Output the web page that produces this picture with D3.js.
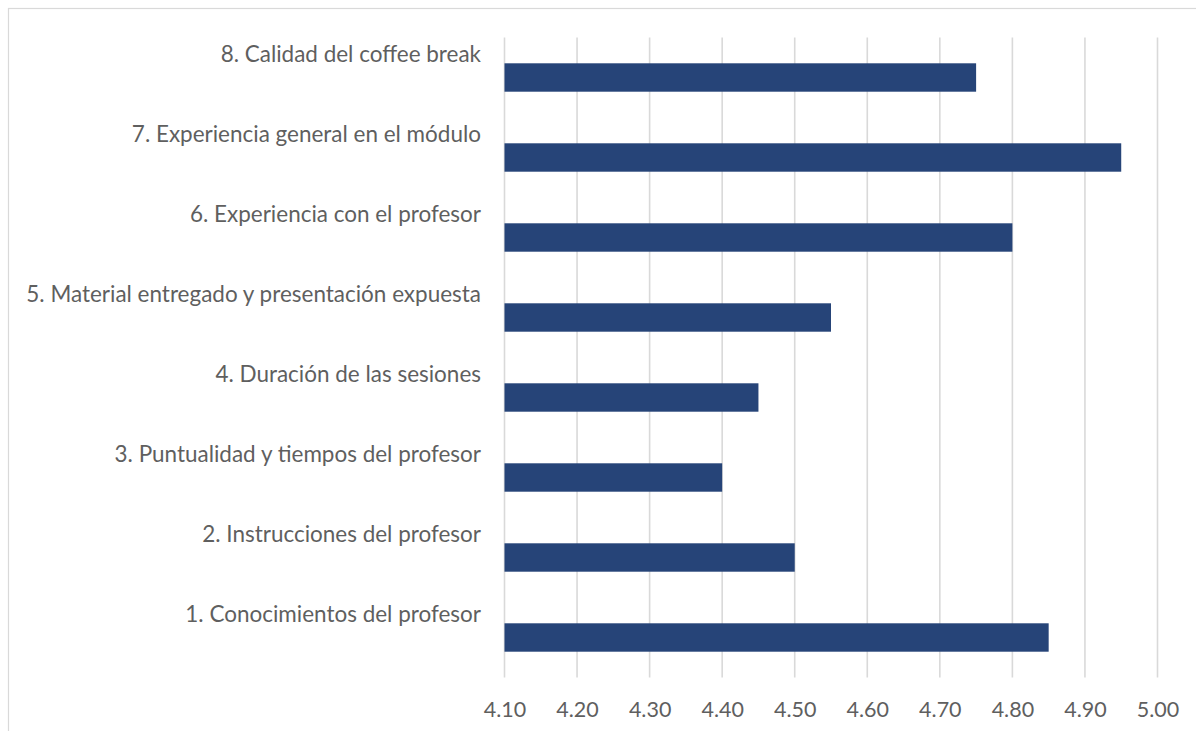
<!DOCTYPE html>
<html>
<head>
<meta charset="utf-8">
<script src="https://cdn.jsdelivr.net/npm/d3@7"></script>
<style>
  html, body { margin: 0; padding: 0; background: #ffffff; }
  svg { display: block; }
</style>
</head>
<body>
<svg id="chart" width="1196" height="731"></svg>
<script>
// ---- data ----
const categories = [
  "1. Conocimientos del profesor",
  "2. Instrucciones del profesor",
  "3. Puntualidad y tiempos del profesor",
  "4. Duración de las sesiones",
  "5. Material entregado y presentación expuesta",
  "6. Experiencia con el profesor",
  "7. Experiencia general en el módulo",
  "8. Calidad del coffee break"
];
const values = [4.85, 4.50, 4.40, 4.45, 4.55, 4.80, 4.95, 4.75];
const tickValues = [4.10, 4.20, 4.30, 4.40, 4.50, 4.60, 4.70, 4.80, 4.90, 5.00];

// ---- layout ----
const W = 1196, H = 731;
const plot = { left: 504.5, right: 1157.5, top: 37.5, bottom: 677.5 };
const barColor = "#264478";
const gridColor = "#d9d9d9";
const textColor = "#5f5f5f";
const fontFamily = "Lato, 'Open Sans', 'Noto Sans', sans-serif";

const svg = d3.select("#chart");
svg.append("rect").attr("width", W).attr("height", H).attr("fill", "#ffffff");

// chart border (only top and left visible)
svg.append("rect")
  .attr("x", 8.5).attr("y", 8.5)
  .attr("width", 1400).attr("height", 1000)
  .attr("fill", "none").attr("stroke", gridColor).attr("stroke-width", 1.2);

const x = d3.scaleLinear().domain([4.10, 5.00]).range([plot.left, plot.right]);
const y = d3.scaleBand()
  .domain(categories.slice().reverse())
  .range([plot.top, plot.bottom])
  .padding(0);

// gridlines
svg.append("g").selectAll("line")
  .data(tickValues)
  .join("line")
  .attr("x1", d => x(d)).attr("x2", d => x(d))
  .attr("y1", plot.top).attr("y2", plot.bottom)
  .attr("stroke", gridColor).attr("stroke-width", 1.6);

// bars
const barFrac = 0.355;
const bh = y.bandwidth() * barFrac;
svg.append("g").selectAll("rect")
  .data(categories.map((c, i) => ({ c, v: values[i] })))
  .join("rect")
  .attr("x", x(4.10))
  .attr("y", d => y(d.c) + (y.bandwidth() - bh) / 2)
  .attr("width", d => x(d.v) - x(4.10))
  .attr("height", bh)
  .attr("fill", barColor);

// category labels
const labelG = svg.append("g")
  .attr("font-family", fontFamily)
  .attr("fill", textColor)
  .attr("text-anchor", "end");
const labels = labelG.selectAll("text")
  .data(categories)
  .join("text")
  .attr("x", 481)
  .attr("y", d => y(d) + y.bandwidth() / 2 - 16)
  .attr("font-size", 20)
  .text(d => d);

// fit font size so the widest label matches the reference width
let maxW = 0;
labels.each(function () { maxW = Math.max(maxW, this.getComputedTextLength()); });
const fs = 20 * 455 / maxW;
labels.attr("font-size", fs);

// x axis tick labels
const xAxis = d3.axisBottom(x)
  .tickValues(tickValues)
  .tickFormat(d3.format(".2f"))
  .tickSize(0)
  .tickPadding(0);
const ax = svg.append("g")
  .attr("transform", `translate(0, ${plot.bottom})`)
  .call(xAxis);
ax.select(".domain").remove();
ax.selectAll("text")
  .attr("font-family", fontFamily)
  .attr("font-size", 21.5)
  .attr("fill", textColor)
  .attr("dy", null)
  .attr("y", 39.5);
</script>
</body>
</html>
